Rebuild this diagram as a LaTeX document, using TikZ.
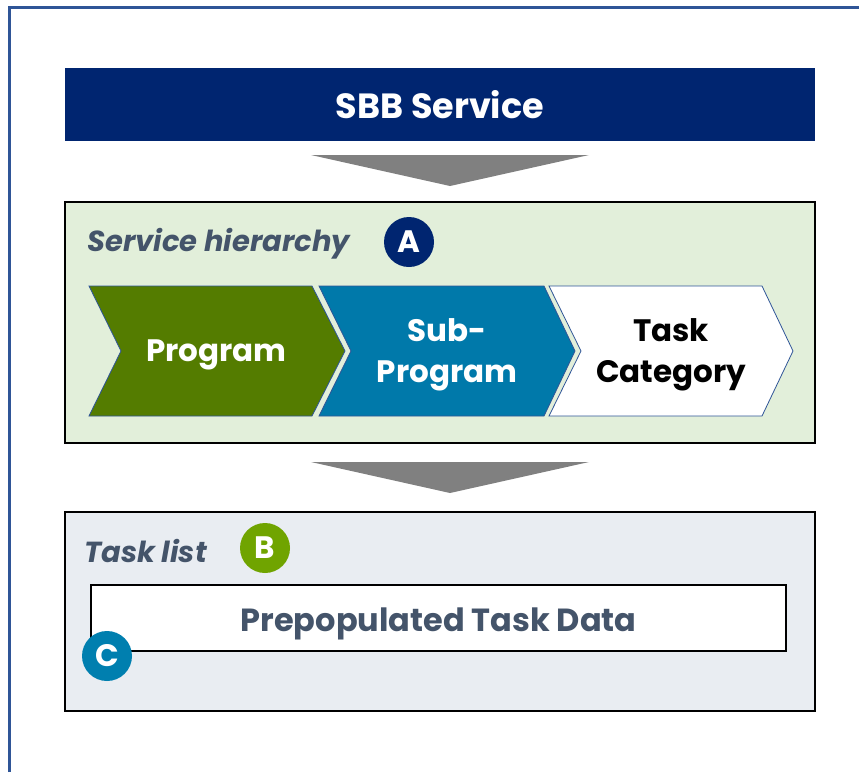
\documentclass[tikz,border=0pt]{standalone}
\usepackage{fontspec}
\setmainfont{Poppins}
\definecolor{navy}{RGB}{0,37,112}
\definecolor{frameblue}{RGB}{47,85,151}
\definecolor{hgreen}{RGB}{226,239,218}
\definecolor{tgray}{RGB}{233,237,242}
\definecolor{txt}{RGB}{68,84,106}
\definecolor{progreen}{RGB}{84,124,0}
\definecolor{subblue}{RGB}{0,121,170}
\definecolor{bgreen}{RGB}{112,164,0}
\definecolor{cblue}{RGB}{0,127,175}
\definecolor{arrgray}{RGB}{128,128,128}
\definecolor{chevline}{RGB}{47,85,151}
\begin{document}
\begin{tikzpicture}[x=1pt,y=-1pt,
  panel/.style={draw=black, line width=1.6pt, minimum width=750pt, inner sep=0pt},
  heading/.style={anchor=base west, text=txt, font=\bfseries\itshape\fontsize{29}{34}\selectfont, inner sep=0pt},
  badge/.style={circle, minimum size=50pt, inner sep=0pt, text=white, font=\bfseries\fontsize{31}{32}\selectfont},
  chev/.style={draw=chevline, line width=0.8pt},
  chevtext/.style={align=center, font=\bfseries\fontsize{31}{41}\selectfont, inner sep=0pt},
  downarrow/.style={fill=arrgray}]
\useasboundingbox (0,0) rectangle (859,772);
% frame
\draw[frameblue, line width=3pt] (9.5,772) -- (9.5,7.5) -- (859,7.5);
% SBB service
\node[fill=navy, minimum width=750pt, minimum height=73pt, inner sep=0pt, text=white,
      font=\bfseries\fontsize{35}{38}\selectfont] (sbb) at (440,104.5) {SBB Service};
% arrows
\fill[downarrow] (311,155) -- (589,155) -- (450,186) -- cycle;
\fill[downarrow] (311,462) -- (589,462) -- (450,493) -- cycle;
% service hierarchy
\node[panel, fill=hgreen, minimum height=241pt] (sh) at (440,322.5) {};
\node[heading] (shlabel) at (87,251) {Service hierarchy};
\node[badge, fill=navy] (ba) at (409,242) {A};
% chevrons
\filldraw[chev, fill=progreen] (89,286) -- (312,286) -- (345,351) -- (312,416) -- (89,416) -- (121,351) -- cycle;
\filldraw[chev, fill=subblue] (319,286) -- (544,286) -- (575,351) -- (544,416) -- (319,416) -- (351,351) -- cycle;
\filldraw[chev, fill=white] (549,286) -- (762,286) -- (793,351) -- (762,416) -- (549,416) -- (581,351) -- cycle;
\node[chevtext, text=white] (prog) at (216.5,355) {Program};
\node[chevtext, text=white] (subprog) at (447,355) {Sub-\\Program};
\node[chevtext, text=black] (taskcat) at (671,355) {Task\\Category};
% task list
\node[panel, fill=tgray, minimum height=199pt] (tl) at (440,611.5) {};
\node[heading] (tllabel) at (84,562) {Task list};
\node[badge, fill=bgreen] (bb) at (265,548) {B};
\node[draw=black, line width=1.4pt, fill=white, minimum width=695pt, minimum height=66pt, inner sep=0pt] (pp) at (438.5,618) {};
\node[text=txt, font=\bfseries\fontsize{32}{36}\selectfont, inner sep=0pt] (pptext) at (438.5,624) {Prepopulated Task Data};
\node[badge, fill=cblue] (bc) at (107,656) {C};
\end{tikzpicture}
\end{document}
